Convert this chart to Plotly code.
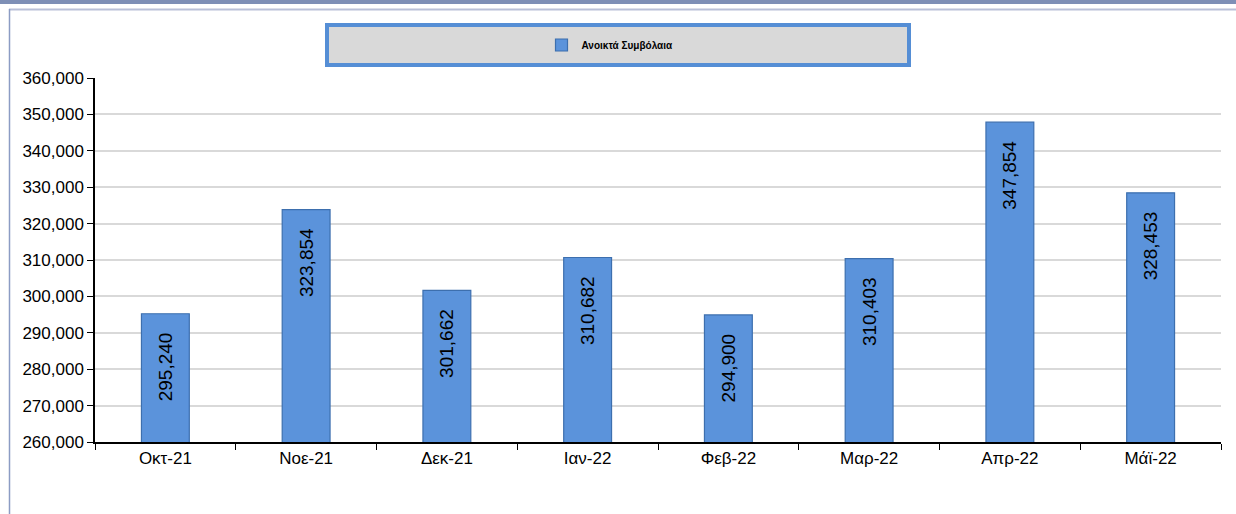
import plotly.graph_objects as go

categories = ["Οκτ-21", "Νοε-21", "Δεκ-21", "Ιαν-22", "Φεβ-22", "Μαρ-22", "Απρ-22", "Μάϊ-22"]
open_contracts = [295240, 323854, 301662, 310682, 294900, 310403, 347854, 328453]
series_name = "Ανοικτά Συμβόλαια"
y_ticks = list(range(260000, 360001, 10000))

W, H = 1236, 514
L, R, T, B = 95, 15, 78, 72
PW, PH = W - L - R, H - T - B


def px_x(x):
    return (x - L) / PW


def px_y(y):
    return (H - B - y) / PH


FONT = "Liberation Sans Narrow, Arial Narrow, Liberation Sans, Arial"
NBSP = "\u00a0"

fig = go.Figure()
fig.add_trace(go.Bar(
    x=categories,
    y=open_contracts,
    name=series_name,
    width=0.34,
    marker=dict(color="#5b93db", line=dict(color="#3d6fae", width=1.2)),
    texttemplate="%{y:,}" + NBSP * 3,
    textposition="inside",
    insidetextanchor="end",
    textangle=-90,
    textfont=dict(family=FONT, size=19, color="#000000"),
    cliponaxis=False,
))

shapes = [
    # top band
    dict(type="rect", xref="paper", yref="paper", x0=px_x(0), x1=px_x(W), y0=px_y(0), y1=px_y(4),
         fillcolor="#7e8fb6", line=dict(width=0), layer="above"),
    dict(type="line", xref="paper", yref="paper", x0=px_x(9), x1=px_x(W), y0=px_y(9.5), y1=px_y(9.5),
         line=dict(color="#b9c0d8", width=2)),
    dict(type="line", xref="paper", yref="paper", x0=px_x(9.5), x1=px_x(9.5), y0=px_y(9), y1=px_y(H),
         line=dict(color="#8c9cc4", width=1.5)),
    # legend box
    dict(type="rect", xref="paper", yref="paper", x0=px_x(327), x1=px_x(909), y0=px_y(25), y1=px_y(65),
         fillcolor="#d9d9d9", line=dict(color="#558ed5", width=4)),
]

fig.update_layout(
    width=W, height=H,
    margin=dict(l=L, r=R, t=T, b=B),
    paper_bgcolor="white",
    plot_bgcolor="white",
    showlegend=True,
    legend=dict(
        x=px_x(610), xanchor="center", xref="paper",
        y=px_y(45), yanchor="middle", yref="paper",
        bgcolor="rgba(0,0,0,0)",
        font=dict(family="Liberation Sans, Arial", size=10, color="#000000", weight="bold"),
        itemwidth=30,
    ),
    shapes=shapes,
    bargap=0.66,
)

fig.update_xaxes(
    showgrid=False,
    showline=True, linecolor="#000000", linewidth=1.5,
    ticks="outside", ticklen=6, tickcolor="#000000",
    tickson="boundaries",
    tickfont=dict(family=FONT, size=17, color="#000000"),
)
fig.update_yaxes(
    range=[260000, 360000],
    tickvals=y_ticks,
    tickformat=",",
    showgrid=True, gridcolor="#d9d9d9", gridwidth=1.5,
    showline=True, linecolor="#000000", linewidth=1.5,
    ticks="outside", ticklen=6, tickcolor="#000000",
    tickfont=dict(family=FONT, size=17, color="#000000"),
    zeroline=False,
)

fig.write_html("out.html", config={"displayModeBar": False},
               post_script="document.body.style.margin='0';")
